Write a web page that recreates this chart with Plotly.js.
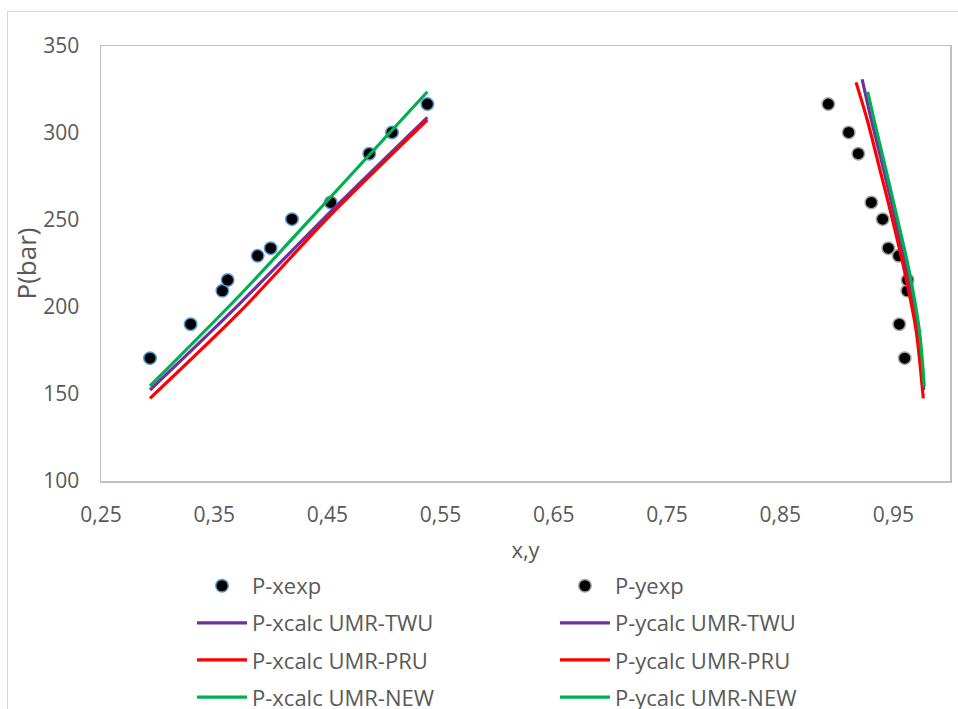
<!DOCTYPE html>
<html>
<head>
<meta charset="utf-8">
<script src="https://cdn.plot.ly/plotly-3.0.1.min.js"></script>
<style>
  html, body { margin: 0; padding: 0; background: #ffffff; overflow: hidden; width: 958px; height: 709px; }
  #frame { position: absolute; left: 7px; top: 11px; width: 1000px; height: 720px; border: 1px solid #d9d9d9; }
  #chart { width: 1000px; height: 720px; }
</style>
</head>
<body>
<div id="frame"><div id="chart"></div></div>
<script>
// ---- Data ----
var P_exp = [170.6, 190.1, 209.3, 215.5, 229.4, 233.8, 250.5, 260.1, 288.1, 300.3, 316.6];
var x_exp = [0.2933, 0.3292, 0.3572, 0.3619, 0.3884, 0.3999, 0.4187, 0.4529, 0.4870, 0.5071, 0.5383];
var y_exp = [0.9600, 0.9552, 0.9623, 0.9626, 0.9547, 0.9455, 0.9405, 0.9305, 0.9190, 0.9105, 0.8925];

var x_calc = [0.2933, 0.3728, 0.4529, 0.5383];
var Px_TWU = [152.3, 202.1, 254.8, 309.0];
var Px_PRU = [147.5, 197.3, 252.9, 307.5];
var Px_NEW = [154.6, 206.9, 263.2, 323.7];

var y_TWU  = [0.9768, 0.9712, 0.9618, 0.9518, 0.9415, 0.9305, 0.9224];
var Py_TWU = [152.3, 186.8, 221.3, 250.0, 278.7, 307.5, 330.9];
var y_PRU  = [0.9764, 0.9700, 0.9596, 0.9493, 0.9382, 0.9269, 0.9170];
var Py_PRU = [147.5, 186.8, 221.3, 250.0, 278.7, 307.5, 329.1];
var y_NEW  = [0.9773, 0.9729, 0.9638, 0.9538, 0.9435, 0.9329, 0.9273];
var Py_NEW = [154.2, 186.8, 221.3, 250.0, 278.7, 307.5, 323.7];

var names = ['P-xexp', 'P-yexp',
             'P-xcalc UMR-TWU', 'P-ycalc UMR-TWU',
             'P-xcalc UMR-PRU', 'P-ycalc UMR-PRU',
             'P-xcalc UMR-NEW', 'P-ycalc UMR-NEW'];

var xTicks = [0.25, 0.35, 0.45, 0.55, 0.65, 0.75, 0.85, 0.95];
var yTicks = [100, 150, 200, 250, 300, 350];

// ---- Styles ----
var TXT = '#595959';
var FONT = 'Open Sans, Liberation Sans, sans-serif';
var cTWU = '#7030a0', cPRU = '#ff0000', cNEW = '#00b050';

function lineTrace(x, y, name, color, legend, grp) {
  return { x: x, y: y, name: name, type: 'scatter', mode: 'lines',
           line: { color: color, width: 3.2, shape: 'spline', smoothing: 0.8 },
           legend: legend, legendgroup: grp, hoverinfo: 'skip' };
}

var traces = [
  { x: x_exp, y: P_exp, name: names[0], type: 'scatter', mode: 'markers',
    marker: { color: '#000000', size: 12.5, line: { color: '#5b9bd5', width: 1.5 } },
    legend: 'legend', legendgroup: 'a1' },
  { x: y_exp, y: P_exp, name: names[1], type: 'scatter', mode: 'markers',
    marker: { color: '#000000', size: 12.5, line: { color: '#a6a6a6', width: 1.5 } },
    legend: 'legend2', legendgroup: 'b1' },
  lineTrace(x_calc, Px_TWU, names[2], cTWU, 'legend', 'a2'),
  lineTrace(y_TWU, Py_TWU, names[3], cTWU, 'legend2', 'b2'),
  lineTrace(x_calc, Px_PRU, names[4], cPRU, 'legend', 'a3'),
  lineTrace(y_PRU, Py_PRU, names[5], cPRU, 'legend2', 'b3'),
  lineTrace(x_calc, Px_NEW, names[6], cNEW, 'legend', 'a4'),
  lineTrace(y_NEW, Py_NEW, names[7], cNEW, 'legend2', 'b4')
];

var legendCommon = {
  orientation: 'v', yanchor: 'top', xanchor: 'left', y: -0.193,
  font: { family: FONT, size: 22, color: TXT },
  bgcolor: 'rgba(0,0,0,0)', borderwidth: 0,
  tracegroupgap: 5.5, traceorder: 'grouped', itemwidth: 50
};

var layout = {
  width: 1000, height: 720,
  margin: { l: 93, r: 58, t: 34, b: 251 },
  paper_bgcolor: '#ffffff', plot_bgcolor: '#ffffff',
  separators: ', ',
  font: { family: FONT, size: 21, color: TXT },
  showlegend: true,
  legend: Object.assign({}, legendCommon, { x: 0.1072 }),
  legend2: Object.assign({}, legendCommon, { x: 0.5347 }),
  xaxis: {
    range: [0.25, 1.0], tickmode: 'array', tickvals: xTicks,
    ticktext: xTicks.map(function (v) { return v.toFixed(2).replace('.', ','); }),
    showgrid: false, zeroline: false, ticks: '', ticklabelstandoff: 14,
    showline: true, mirror: true, linecolor: '#bfbfbf', linewidth: 1.5,
    tickfont: { family: FONT, size: 21, color: TXT },
    title: { text: 'x,y', font: { family: FONT, size: 22, color: TXT }, standoff: 16 }
  },
  yaxis: {
    range: [100, 350], tickmode: 'array', tickvals: yTicks,
    showgrid: false, zeroline: false, ticks: '', ticklabelstandoff: 16,
    showline: true, mirror: true, linecolor: '#bfbfbf', linewidth: 1.5,
    tickfont: { family: FONT, size: 21, color: TXT },
    title: { text: 'P(bar)', font: { family: FONT, size: 26, color: TXT }, standoff: 0 }
  }
};

Plotly.newPlot('chart', traces, layout, { displayModeBar: false, staticPlot: true });
</script>
</body>
</html>
